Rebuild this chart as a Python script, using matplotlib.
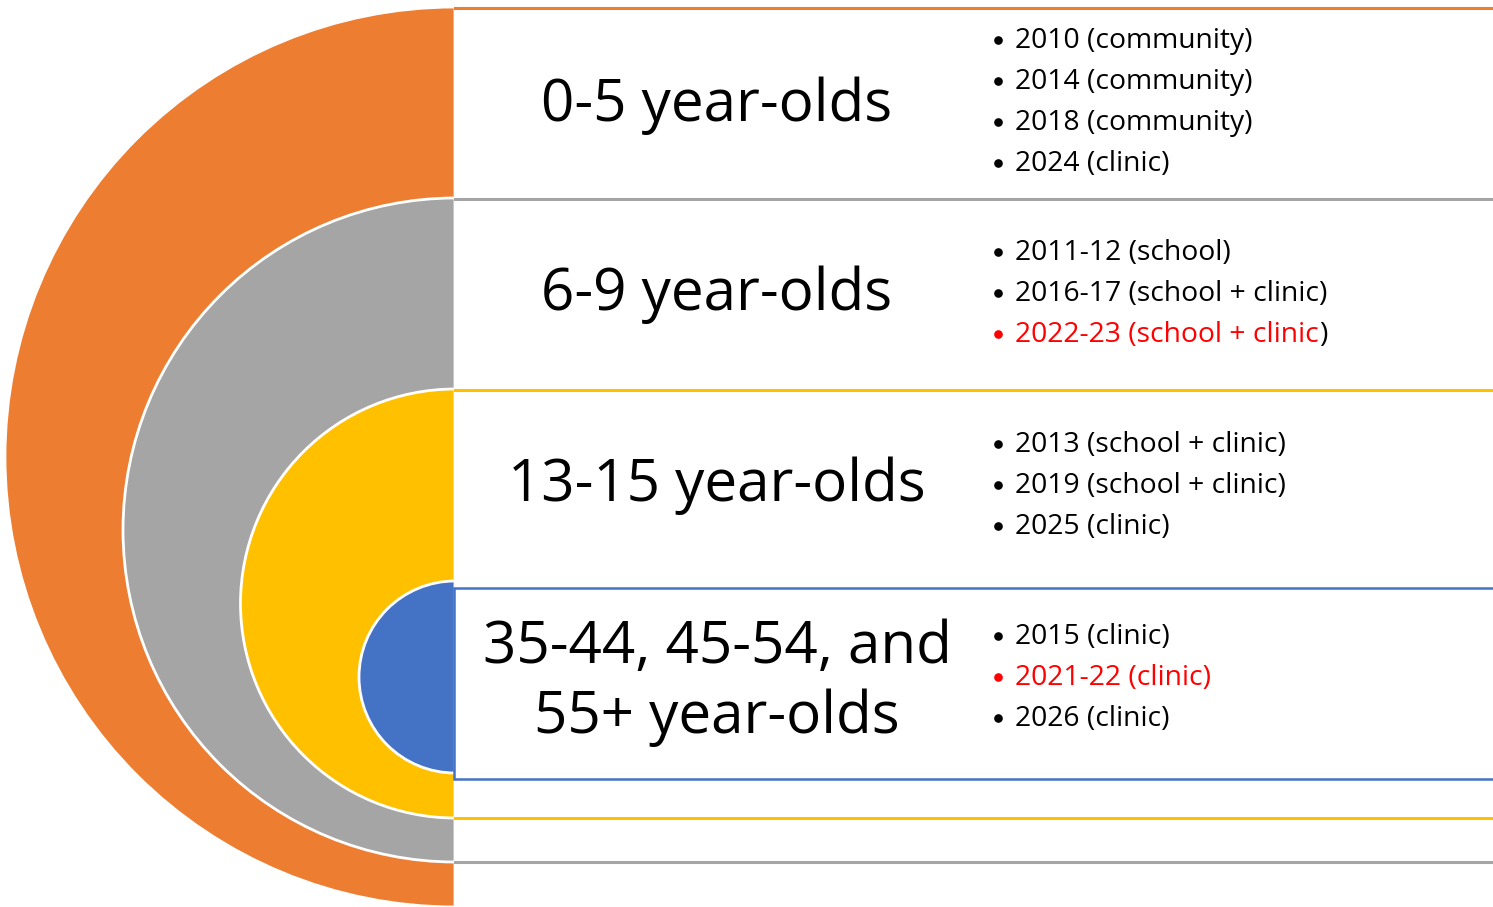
import matplotlib
matplotlib.use('Agg')
import matplotlib.pyplot as plt
from matplotlib.patches import Wedge, Rectangle

plt.rcParams['font.family'] = ['Open Sans', 'DejaVu Sans']

# age groups, outer ring first
groups = ['0-5 year-olds', '6-9 year-olds', '13-15 year-olds',
          '35-44, 45-54, and\n55+ year-olds']
colors = ['#ED7D31', '#A5A5A5', '#FFC000', '#4472C4']

# survey rounds per group; True = highlighted in red
surveys = [
    [('2010 (community)', False), ('2014 (community)', False),
     ('2018 (community)', False), ('2024 (clinic)', False)],
    [('2011-12 (school)', False), ('2016-17 (school + clinic)', False),
     ('2022-23 (school + clinic', True)],
    [('2013 (school + clinic)', False), ('2019 (school + clinic)', False),
     ('2025 (clinic)', False)],
    [('2015 (clinic)', False), ('2021-22 (clinic)', True),
     ('2026 (clinic)', False)],
]

# layout (pixels, y downwards)
W, H = 1493, 907
cx = 455
tops = [7, 198, 389, 581]
bottoms = [907, 862, 818, 773]
label_y = [106, 295, 486, 683]
bullet_y0 = [41, 253, 445, 637]
step = 41

fig = plt.figure(figsize=(W / 100, H / 100), dpi=100)
ax = fig.add_axes([0, 0, 1, 1])
ax.set_xlim(0, W)
ax.set_ylim(H, 0)
ax.axis('off')

for i, c in enumerate(colors):
    r = (bottoms[i] - tops[i]) / 2
    cy = (bottoms[i] + tops[i]) / 2
    ax.add_patch(Wedge((cx, cy), r, 90, 270, facecolor=c,
                       edgecolor='white', lw=2, zorder=2 + i))

# horizontal rules
for i, c in enumerate(colors[:3]):
    ax.plot([cx, W], [tops[i] + 1, tops[i] + 1], color=c, lw=2.2, zorder=10)
    if i > 0:
        ax.plot([cx, W], [bottoms[i], bottoms[i]], color=c, lw=2.2, zorder=10)
ax.add_patch(Rectangle((cx - 1, 588), W, 191, facecolor='white',
                       edgecolor=colors[3], lw=1.8, zorder=9))

for i, g in enumerate(groups):
    ax.text(717, label_y[i], g, fontsize=42, ha='center', va='center',
            linespacing=1.25, zorder=12)

fig.canvas.draw()
rend = fig.canvas.get_renderer()
for i, items in enumerate(surveys):
    for j, (s, red) in enumerate(items):
        y = bullet_y0[i] + j * step
        col = 'red' if red else 'black'
        ax.plot(998, y - 1, 'o', ms=5.2, color=col, zorder=12)
        t = ax.text(1015, y, s, fontsize=20.3, color=col, ha='left',
                    va='center', zorder=12)
        if s.endswith('clinic') and red:
            bb = t.get_window_extent(rend)
            x_end = ax.transData.inverted().transform((bb.x1, bb.y0))[0]
            ax.text(x_end, y, ')', fontsize=20.3, color='black', ha='left',
                    va='center', zorder=12)

fig.savefig('out.png', dpi=100)
